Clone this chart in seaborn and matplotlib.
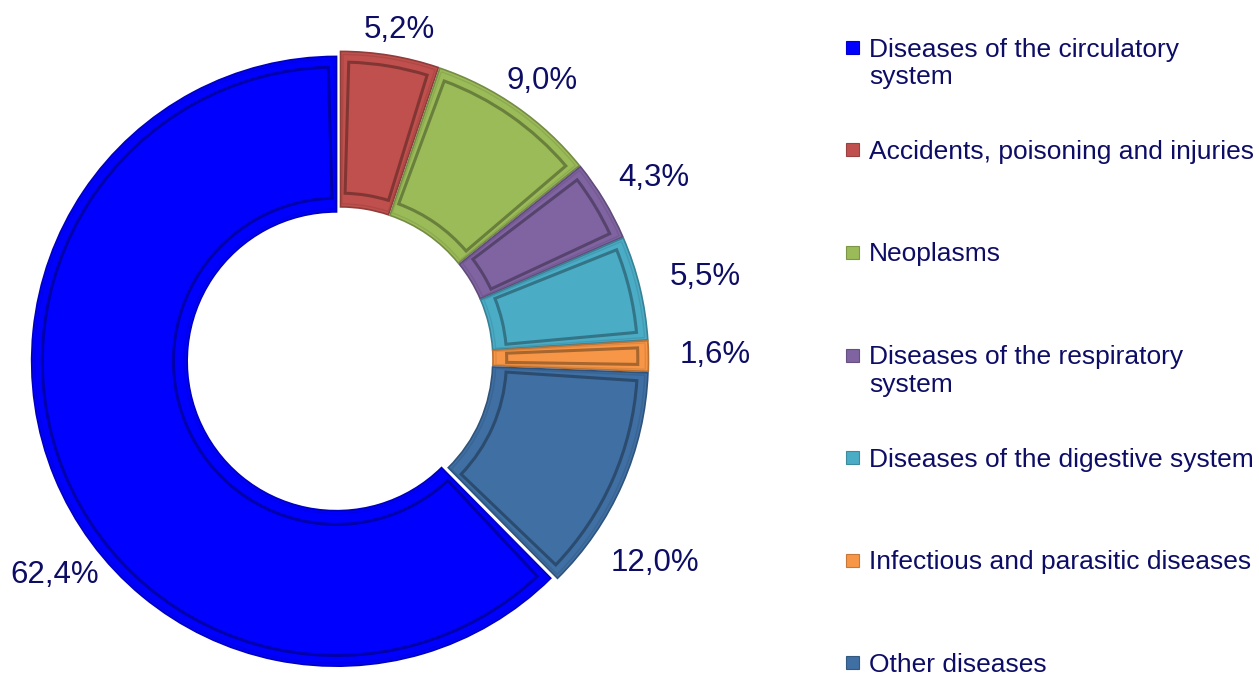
import matplotlib

matplotlib.use("Agg")
import matplotlib.pyplot as plt
import matplotlib.colors as mcolors
from matplotlib.patches import Wedge, Rectangle
import numpy as np
import seaborn as sns

sns.set_theme(style="white")
plt.rcParams["font.family"] = ["Liberation Sans", "DejaVu Sans"]

TEXT = "#0d0d66"

causes = ["Diseases of the circulatory\nsystem",
          "Accidents, poisoning and injuries",
          "Neoplasms",
          "Diseases of the respiratory\nsystem",
          "Diseases of the digestive system",
          "Infectious and parasitic diseases",
          "Other diseases"]
shares = [62.4, 5.2, 9.0, 4.3, 5.5, 1.6, 12.0]
colors = ["#0000ff", "#c0504d", "#9bbb59", "#8064a2", "#4bacc6", "#f79646", "#3f6fa3"]
pct_labels = ["62,4%", "5,2%", "9,0%", "4,3%", "5,5%", "1,6%", "12,0%"]

# label placement tweaks (Excel "best fit" look): radius and angle shift
lab_r = [1.17, 1.10, 1.13, 1.19, 1.23, 1.23, 1.23]
lab_shift = [14.7, -0.9, -1.0, -1.0, -0.7, 0.0, -9.0]


def darker(c, f=0.7):
    r, g, b = mcolors.to_rgb(c)
    return (r * f, g * f, b * f)


fig = plt.figure(figsize=(12.59, 6.82), dpi=100)
ax = fig.add_axes([0, 0, 0.54, 1])

# blue slice ends at 12 o'clock, the rest go clockwise from there
start = 90 + shares[0] * 3.6
wedges, _ = ax.pie(shares, colors=colors, startangle=start, counterclock=False,
                   radius=1.0, explode=[0.012] * len(shares),
                   wedgeprops=dict(width=0.51, edgecolor="white", linewidth=0.8))
ax.set_aspect("equal")
ax.set_xlim(-1.115, 1.115)
ax.set_ylim(-1.056, 1.18)
ax.axis("off")

# fake bevel: darker inner frame per wedge
for w, c in zip(wedges, colors):
    w.set_edgecolor(darker(c, 0.75))
    w.set_linewidth(1.2)
    span = w.theta2 - w.theta1
    d = min(1.6, span * 0.22)
    cx, cy = w.center
    ax.add_patch(Wedge((cx, cy), 0.965, w.theta1 + d, w.theta2 - d, width=0.43,
                       facecolor="none", edgecolor=darker(c, 0.6),
                       linewidth=2.2, alpha=0.8))
    ax.add_patch(Wedge((cx, cy), 0.99, w.theta1 + d * 0.3, w.theta2 - d * 0.3,
                       width=0.49, facecolor="none", edgecolor=darker(c, 0.85),
                       linewidth=1.0, alpha=0.6))

for w, lab, r, sh in zip(wedges, pct_labels, lab_r, lab_shift):
    mid = np.deg2rad((w.theta1 + w.theta2) / 2 + sh)
    ax.text(r * np.cos(mid), r * np.sin(mid), lab, ha="center", va="center",
            fontsize=22.5, color=TEXT)

# legend, one entry per ~103 px, square aligned with first text line
W, H = 1259, 682
x_box, x_txt, y0, step = 846 / W, 869 / W, 1 - 47.5 / H, 102.5 / H
for i, (name, c) in enumerate(zip(causes, colors)):
    y = y0 - i * step
    fig.patches.append(Rectangle((x_box, y - 6.5 / H), 13 / W, 13 / H,
                                 transform=fig.transFigure, facecolor=c,
                                 edgecolor=darker(c, 0.8), linewidth=0.8))
    fig.text(x_txt, y + 10 / H, name, ha="left", va="top", fontsize=19,
             color=TEXT, linespacing=1.2)

fig.savefig("out.png", dpi=100)
